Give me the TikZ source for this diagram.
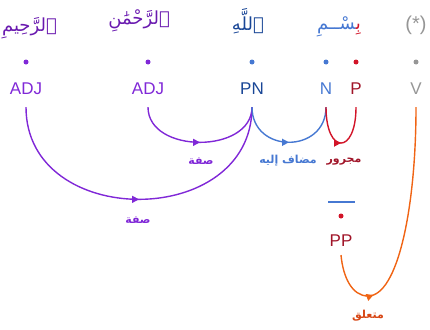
\documentclass[tikz,border=0pt]{standalone}
\usepackage{fontspec}
\setmainfont{Liberation Sans}
\newfontfamily\arabicfont[Script=Arabic]{DejaVu Sans}
\TeXXeTstate=1
\usetikzlibrary{arrows.meta,decorations.markings}
\definecolor{cpurple}{RGB}{128,40,215}
\definecolor{cpurpledk}{RGB}{105,25,175}
\definecolor{cblue}{RGB}{70,120,210}
\definecolor{cbluedk}{RGB}{25,70,150}
\definecolor{cred}{RGB}{210,20,40}
\definecolor{creddk}{RGB}{160,20,40}
\definecolor{cgray}{RGB}{150,150,150}
\definecolor{corange}{RGB}{240,100,20}
\definecolor{corangedk}{RGB}{215,70,20}
\tikzset{
  word/.style={font=\arabicfont\fontsize{18}{22}\selectfont, inner sep=0pt},
  dotnode/.style={circle, fill, inner sep=0pt, minimum size=5pt},
  lab/.style={font=\fontsize{17}{20}\selectfont, inner sep=0pt},
  rel/.style={font=\arabicfont\bfseries\fontsize{11}{13}\selectfont, inner sep=0pt},
  arcline/.style={line width=1.4pt, postaction={decorate},
    decoration={markings, mark=at position #1 with {\arrow{Triangle[length=7pt,width=7pt]}}}},
  arcline/.default=0.5
}
\begin{document}
\begin{tikzpicture}[x=1pt,y=-1pt]
\useasboundingbox (0,0) rectangle (430,329);
% words
\node[word, text=cpurpledk, anchor=east] (w1) at (57,28) {\beginR ٱلرَّحِيمِ\endR};
\node[word, text=cpurpledk, anchor=east] (w2) at (170,21) {\beginR ٱلرَّحْمَٰنِ\endR};
\node[word, text=cbluedk, anchor=east] (w3) at (264,21) {\beginR ٱللَّهِ\endR};
\node[word] (w4) at (339,27) {{\color{cblue}\char"200D\relax سْــمِ}{\color{cred}بِ\char"200D\relax}};
\node[font=\fontsize{20}{22}\selectfont, text=cgray, inner sep=0pt] (w5) at (416,25) {(*)};
% dots
\node[dotnode, cpurple] (d1) at (26,62) {};
\node[dotnode, cpurple] (d2) at (148,62) {};
\node[dotnode, cblue] (d3) at (252,62) {};
\node[dotnode, cblue] (d4) at (326,62) {};
\node[dotnode, cred] (d5) at (356,62) {};
\node[dotnode, cgray] (d6) at (416,62) {};
% labels
\node[lab, text=cpurple] (adj1) at (26,89) {ADJ};
\node[lab, text=cpurple] (adj2) at (148,89) {ADJ};
\node[lab, text=cbluedk] (pn) at (252,89) {PN};
\node[lab, text=cblue] (n) at (326,89) {N};
\node[lab, text=creddk] (p) at (356,89) {P};
\node[lab, text=cgray] (v) at (416,89) {V};
% arc end points
\coordinate (a1) at ([yshift=-12pt]adj1.south);
\coordinate (a2) at ([yshift=-12pt]adj2.south);
\coordinate (a3) at ([yshift=-12pt]pn.south);
\coordinate (a4) at ([yshift=-12pt]n.south);
\coordinate (a5) at ([yshift=-12pt]p.south);
\coordinate (a6) at ([yshift=-12pt]v.south);
% arcs
\draw[arcline, cpurple] (a2) .. controls +(0,47) and +(0,47) .. (a3);
\draw[arcline, cpurple] (a1) .. controls +(0,123) and +(0,123) .. (a3);
\draw[arcline, cblue] (a3) .. controls +(0,47) and +(0,47) .. (a4);
\draw[arcline, cred] (a4) .. controls +(0,48) and +(0,48) .. (a5);
% relation labels
\node[rel, text=cpurple] (r1) at (201,161) {\beginR صفة\endR};
\node[rel, text=cpurple] (r2) at (138,220) {\beginR صفة\endR};
\node[rel, text=cblue] (r3) at (288,161) {\beginR مضاف إليه\endR};
\node[rel, text=creddk] (r4) at (344,162) {\beginR مجرور\endR};
% PP
\coordinate (bl) at (328,202);
\coordinate (br) at (355,202);
\draw[cblue, line width=1.4pt] (bl) -- (br);
\node[dotnode, cred] (d7) at (341,216) {};
\node[lab, text=creddk] (pp) at (341,241) {PP};
\coordinate (ob) at (368,296);
\draw[arcline=0.23, corange] ([yshift=-8pt]pp.south) .. controls +(2,22) and +(-16,0) .. (ob)
  .. controls +(30,0) and +(0,100) .. (a6);
\node[rel, text=corangedk] (r5) at (368,316) {\beginR متعلق\endR};
\end{tikzpicture}
\end{document}
